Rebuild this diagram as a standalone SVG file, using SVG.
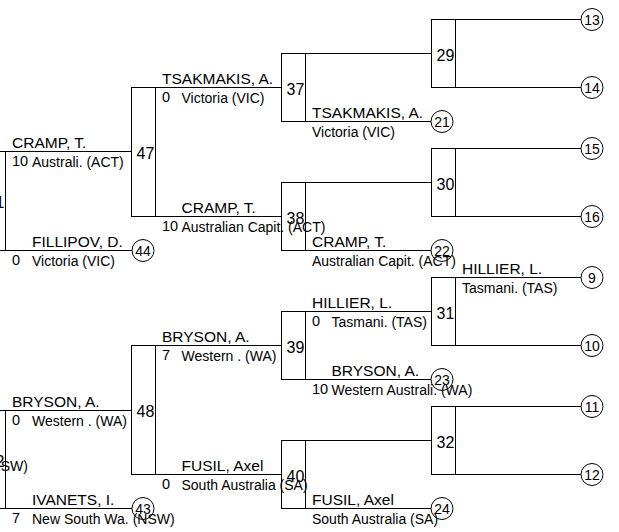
<svg xmlns="http://www.w3.org/2000/svg" width="619" height="532" viewBox="0 0 619 532">
<style>
.bx{fill:none;stroke:#000;stroke-width:1}
.ln{fill:none;stroke:#000;stroke-width:1}
.ci{fill:none;stroke:#000;stroke-width:1}
text{font-family:"Liberation Sans",Arial,Helvetica,sans-serif;fill:#000}
.num{font-size:16px}
.cn{font-size:14px;text-anchor:middle}
.nm{font-size:15.5px}
.sc{font-size:14.5px}
.ct{font-size:14px}
</style>
<rect width="619" height="532" fill="#fff"/>
<g id="connectors">
<path class="ln" d="M5.5 151.5H131.5M5.5 250.5H132M5.5 410.5H131.5M5.5 508.5H132"/>
<path class="ln" d="M155.5 87.5H281.5M155.5 216.5H281.5M155.5 345.5H281.5M155.5 474.5H281.5"/>
<path class="ln" d="M305.5 53.5H431.5M305.5 121.5H431M305.5 182.5H431.5M305.5 250.5H431M305.5 311.5H431.5M305.5 379.5H431M305.5 440.5H431.5M305.5 508.5H431"/>
<path class="ln" d="M455.5 19.5H581M455.5 87.5H581M455.5 148.5H581M455.5 216.5H581M455.5 277.5H581M455.5 345.5H581M455.5 406.5H581M455.5 474.5H581"/>
</g>
<g id="labels">
<text class="nm" x="12" y="148">CRAMP, T.</text>
<text class="sc" x="12" y="165.5">10</text>
<text class="ct" x="32" y="166.5">Australi. (ACT)</text>
<text class="nm" x="32" y="247">FILLIPOV, D.</text>
<text class="sc" x="12" y="264.5">0</text>
<text class="ct" x="32" y="265.5">Victoria (VIC)</text>
<text class="nm" x="12" y="407">BRYSON, A.</text>
<text class="sc" x="12" y="424.5">0</text>
<text class="ct" x="32" y="425.5">Western . (WA)</text>
<text class="nm" x="32" y="505">IVANETS, I.</text>
<text class="sc" x="12" y="522.5">7</text>
<text class="ct" x="32" y="523.5">New South Wa. (NSW)</text>
<text class="ct" x="28" y="471" text-anchor="end">(NSW)</text>

<text class="nm" x="162" y="84">TSAKMAKIS, A.</text>
<text class="sc" x="162" y="101.5">0</text>
<text class="ct" x="181.5" y="102.5">Victoria (VIC)</text>
<text class="nm" x="181.5" y="213">CRAMP, T.</text>
<text class="sc" x="162" y="230.5">10</text>
<text class="ct" x="181.5" y="231.5">Australian Capit. (ACT)</text>
<text class="nm" x="162" y="342">BRYSON, A.</text>
<text class="sc" x="162" y="359.5">7</text>
<text class="ct" x="181.5" y="360.5">Western . (WA)</text>
<text class="nm" x="181.5" y="471">FUSIL, Axel</text>
<text class="sc" x="162" y="488.5">0</text>
<text class="ct" x="181.5" y="489.5">South Australia (SA)</text>

<text class="nm" x="312" y="118">TSAKMAKIS, A.</text>
<text class="ct" x="312" y="136.5">Victoria (VIC)</text>
<text class="nm" x="312" y="247">CRAMP, T.</text>
<text class="ct" x="312" y="265.5">Australian Capit. (ACT)</text>
<text class="nm" x="312" y="308">HILLIER, L.</text>
<text class="sc" x="312" y="325.5">0</text>
<text class="ct" x="331.5" y="326.5">Tasmani. (TAS)</text>
<text class="nm" x="331.5" y="376">BRYSON, A.</text>
<text class="sc" x="312" y="393.5">10</text>
<text class="ct" x="331.5" y="394.5">Western Australi. (WA)</text>
<text class="nm" x="312" y="505">FUSIL, Axel</text>
<text class="ct" x="312" y="523.5">South Australia (SA)</text>

<text class="nm" x="462" y="274">HILLIER, L.</text>
<text class="ct" x="462" y="292.5">Tasmani. (TAS)</text>
</g>
<g id="m51"><rect class="bx" x="-18.5" y="151.5" width="24" height="99"/><text class="num" x="4.5" y="208" text-anchor="end">1</text></g>
<g id="m52"><rect class="bx" x="-18.5" y="410.5" width="24" height="98"/><text class="num" x="4.5" y="466.5" text-anchor="end">2</text></g>
<g id="m47"><rect class="bx" x="131.5" y="87.5" width="24" height="129"/><text class="num" x="136.5" y="159">47</text></g>
<g id="m48"><rect class="bx" x="131.5" y="345.5" width="24" height="129"/><text class="num" x="136.5" y="417">48</text></g>
<g id="m37"><rect class="bx" x="281.5" y="53.5" width="24" height="68"/><text class="num" x="286.5" y="94.5">37</text></g>
<g id="m38"><rect class="bx" x="281.5" y="182.5" width="24" height="68"/><text class="num" x="286.5" y="223.5">38</text></g>
<g id="m39"><rect class="bx" x="281.5" y="311.5" width="24" height="68"/><text class="num" x="286.5" y="352.5">39</text></g>
<g id="m40"><rect class="bx" x="281.5" y="440.5" width="24" height="68"/><text class="num" x="286.5" y="481.5">40</text></g>
<g id="m29"><rect class="bx" x="431.5" y="19.5" width="24" height="68"/><text class="num" x="436.5" y="60.5">29</text></g>
<g id="m30"><rect class="bx" x="431.5" y="148.5" width="24" height="68"/><text class="num" x="436.5" y="189.5">30</text></g>
<g id="m31"><rect class="bx" x="431.5" y="277.5" width="24" height="68"/><text class="num" x="436.5" y="318.5">31</text></g>
<g id="m32"><rect class="bx" x="431.5" y="406.5" width="24" height="68"/><text class="num" x="436.5" y="447.5">32</text></g>
<g id="c44"><circle class="ci" cx="143" cy="250.5" r="11"/><text class="cn" x="143" y="255.5">44</text></g>
<g id="c43"><circle class="ci" cx="143" cy="508.5" r="11"/><text class="cn" x="143" y="513.5">43</text></g>
<g id="c21"><circle class="ci" cx="442" cy="121.5" r="11"/><text class="cn" x="442" y="126.5">21</text></g>
<g id="c22"><circle class="ci" cx="442" cy="250.5" r="11"/><text class="cn" x="442" y="255.5">22</text></g>
<g id="c23"><circle class="ci" cx="442" cy="379.5" r="11"/><text class="cn" x="442" y="384.5">23</text></g>
<g id="c24"><circle class="ci" cx="442" cy="508.5" r="11"/><text class="cn" x="442" y="513.5">24</text></g>
<g id="c13"><circle class="ci" cx="592" cy="19.5" r="11"/><text class="cn" x="592" y="24.5">13</text></g>
<g id="c14"><circle class="ci" cx="592" cy="87.5" r="11"/><text class="cn" x="592" y="92.5">14</text></g>
<g id="c15"><circle class="ci" cx="592" cy="148.5" r="11"/><text class="cn" x="592" y="153.5">15</text></g>
<g id="c16"><circle class="ci" cx="592" cy="216.5" r="11"/><text class="cn" x="592" y="221.5">16</text></g>
<g id="c9"><circle class="ci" cx="592" cy="277.5" r="11"/><text class="cn" x="592" y="282.5">9</text></g>
<g id="c10"><circle class="ci" cx="592" cy="345.5" r="11"/><text class="cn" x="592" y="350.5">10</text></g>
<g id="c11"><circle class="ci" cx="592" cy="406.5" r="11"/><text class="cn" x="592" y="411.5">11</text></g>
<g id="c12"><circle class="ci" cx="592" cy="474.5" r="11"/><text class="cn" x="592" y="479.5">12</text></g>
</svg>
